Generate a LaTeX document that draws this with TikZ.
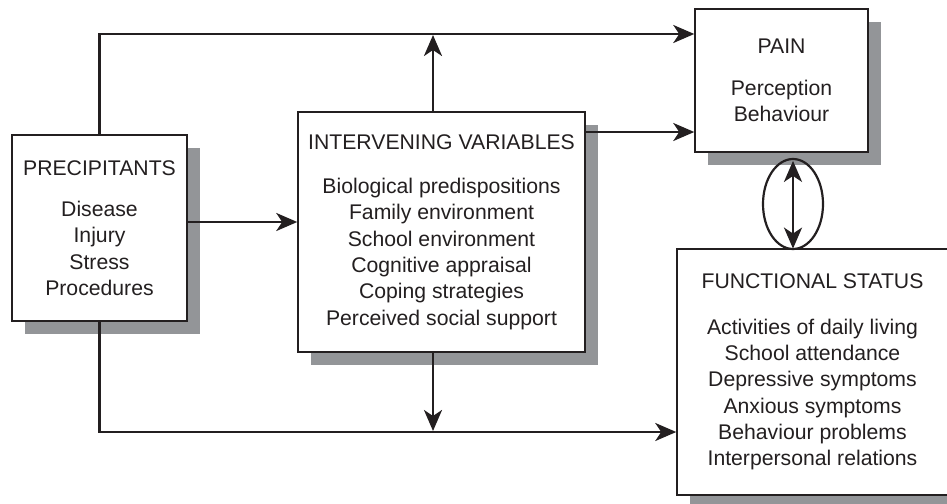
\documentclass[tikz,border=0pt]{standalone}
\usepackage{fontspec}
\setmainfont{Liberation Sans}
\usetikzlibrary{arrows.meta,shapes.geometric,shadows}
\definecolor{ink}{HTML}{231F20}
\definecolor{shade}{HTML}{939598}
\tikzset{
  box/.style={draw=ink, line width=1.5pt, fill=white, inner sep=0pt, align=center,
    text=ink, font=\fontsize{21.2}{26.3}\selectfont,
    drop shadow={shadow xshift=13pt, shadow yshift=-13pt, opacity=1, fill=shade}},
  arr/.style={draw=ink, line width=2.7pt, -{Stealth[length=21pt,width=18pt,inset=6pt]}},
  dblarr/.style={draw=ink, line width=2.7pt, {Stealth[length=21pt,width=18pt,inset=6pt]}-{Stealth[length=21pt,width=18pt,inset=6pt]}},
  ring/.style={draw=ink, line width=2.2pt, ellipse, inner sep=0pt}
}
\begin{document}
\begin{tikzpicture}[x=1pt,y=-1pt]
\clip (0,0) rectangle (947,503);
\node[box, minimum width=175pt, minimum height=186pt] (prec) at (99.5,228)
  {PRECIPITANTS\\[15pt]Disease\\Injury\\Stress\\Procedures};
\node[box, minimum width=287pt, minimum height=240pt] (int) at (441.5,232)
  {INTERVENING VARIABLES\\[18pt]Biological predispositions\\Family environment\\School environment\\Cognitive appraisal\\Coping strategies\\Perceived social support};
\node[box, minimum width=173pt, minimum height=143pt] (pain) at (781.5,80.5)
  {PAIN\\[15pt]Perception\\Behaviour};
\node[box, minimum width=271pt, minimum height=246pt] (func) at (812.5,372)
  {FUNCTIONAL STATUS\\[19pt]Activities of daily living\\School attendance\\Depressive symptoms\\Anxious symptoms\\Behaviour problems\\Interpersonal relations};
\node[ring, minimum width=60pt, minimum height=90pt] (ell) at (793,204) {};
\coordinate (rtop) at (0,34);
\coordinate (rmid) at (0,132);
\coordinate (rone) at (0,222);
\coordinate (rbot) at (0,432);
\coordinate (cint) at (433,0);
\draw[arr] (prec.north) |- (pain.west |- rtop);
\draw[arr, shorten >=1pt] (int.north -| cint) -- (cint |- rtop);
\draw[arr] (int.east |- rmid) -- (pain.west |- rmid);
\draw[arr] (prec.east |- rone) -- (int.west |- rone);
\draw[arr] (prec.south) |- (func.west |- rbot);
\draw[arr, shorten >=1pt] (int.south -| cint) -- (cint |- rbot);
\draw[dblarr, shorten <=3pt, shorten >=1.5pt] (ell.north) -- (ell.south);
\end{tikzpicture}
\end{document}
